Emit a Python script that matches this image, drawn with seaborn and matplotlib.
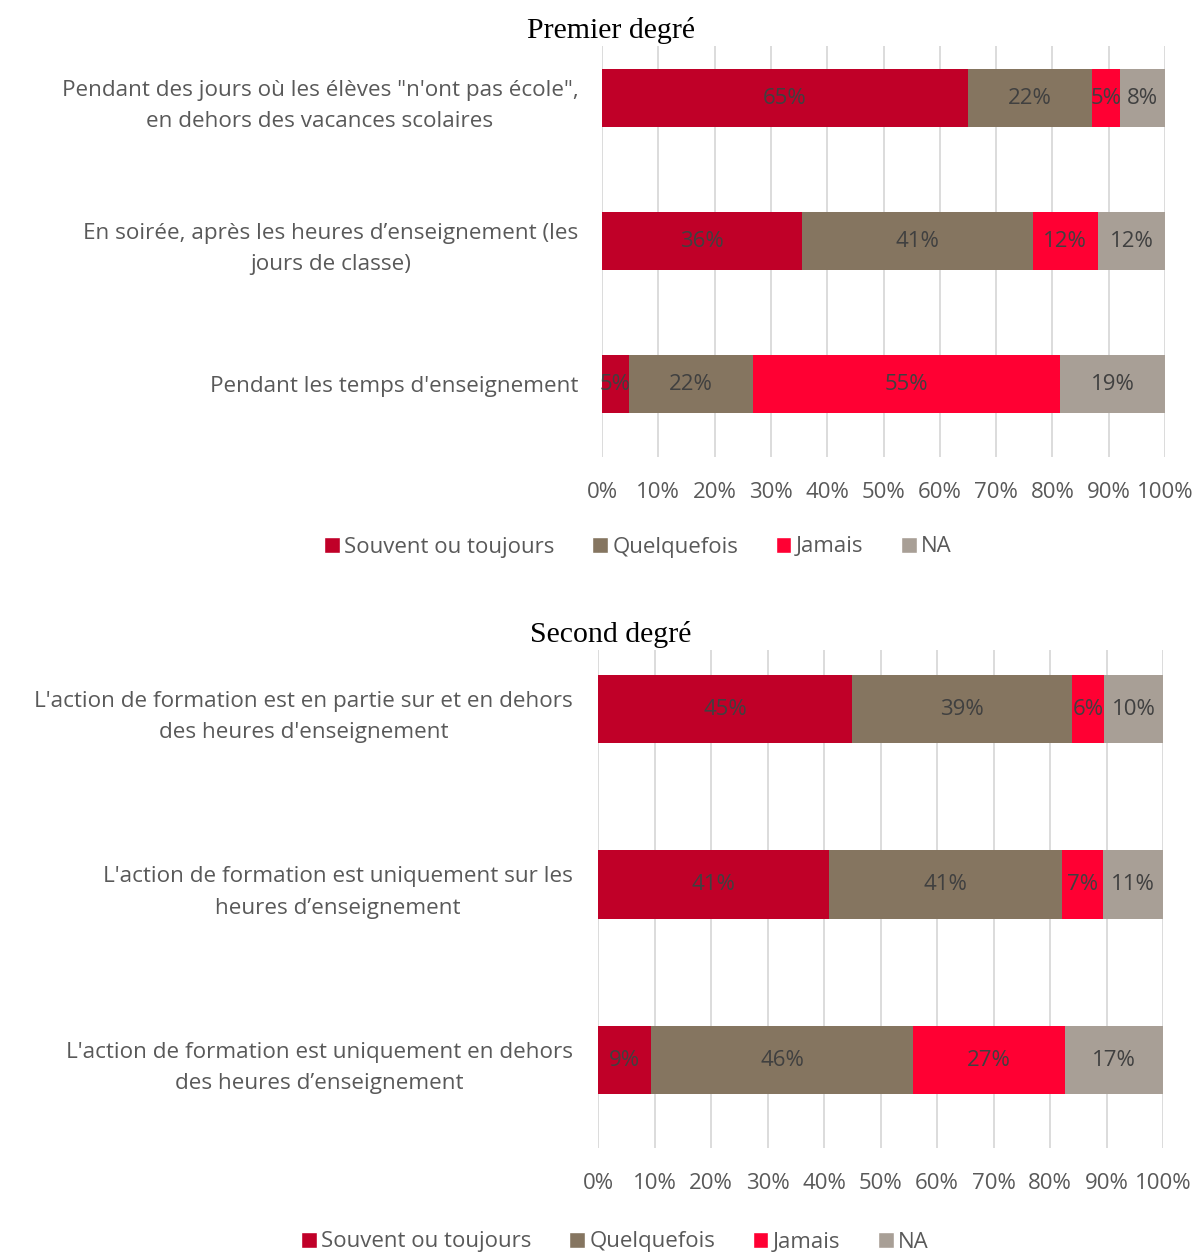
import matplotlib.pyplot as plt
import seaborn as sns
import numpy as np
from matplotlib.patches import Patch

# data
series = ["Souvent ou toujours", "Quelquefois", "Jamais", "NA"]
colors = ["#C00028", "#857560", "#FF0033", "#A89F96"]

cats_1 = ["Pendant des jours où les élèves \"n'ont pas école\",\nen dehors des vacances scolaires",
          "En soirée, après les heures d’enseignement (les\njours de classe)",
          "Pendant les temps d'enseignement"]
souvent_1 = [65.0, 35.6, 4.8]
quelquefois_1 = [22.0, 40.9, 22.0]
jamais_1 = [5.0, 11.6, 54.6]
na_1 = [8.0, 11.9, 18.6]

cats_2 = ["L'action de formation est en partie sur et en dehors\ndes heures d'enseignement",
          "L'action de formation est uniquement sur les\nheures d’enseignement",
          "L'action de formation est uniquement en dehors\ndes heures d’enseignement"]
souvent_2 = [45.0, 40.9, 9.4]
quelquefois_2 = [38.9, 41.2, 46.4]
jamais_2 = [5.7, 7.3, 26.9]
na_2 = [10.4, 10.6, 17.3]

sns.set_style("white")
plt.rcParams['font.family'] = ['Open Sans', 'DejaVu Sans']

fig = plt.figure(figsize=(11.98, 12.54), dpi=100)
ax1 = fig.add_axes([602/1198, 1-457/1254, 563/1198, 411/1254])
ax2 = fig.add_axes([598/1198, 1-1148/1254, 565/1198, 498/1254])

txt = "#595959"


def draw(ax, cats, vals, bar_h, ylim, pad):
    vals = np.array(vals)
    cum = np.cumsum(vals, axis=0)
    # draw from the largest cumulative to the smallest so they stack
    for i in range(3, -1, -1):
        sns.barplot(x=cum[i], y=cats, order=cats, orient="h", color=colors[i],
                    width=bar_h, linewidth=0, saturation=1, ax=ax, zorder=3)
    starts = cum - vals
    for i in range(4):
        for j in range(len(cats)):
            ax.text(starts[i, j] + vals[i, j] / 2, j, f"{vals[i, j]:.0f}%",
                    ha="center", va="center", fontsize=16, color="#404040", zorder=5)
    ax.set_xlim(0, 100)
    ax.set_ylim(*ylim)
    ax.set_xticks(np.arange(0, 101, 10))
    ax.set_xticklabels([f"{t}%" for t in range(0, 101, 10)], fontsize=16, color=txt)
    ax.tick_params(axis="x", length=0, pad=18)
    ax.tick_params(axis="y", length=0, pad=pad)
    for lab in ax.get_yticklabels():
        lab.set_multialignment("center")
        lab.set_linespacing(1.65)
        lab.set_fontsize(16.2)
        lab.set_color(txt)
    ax.grid(axis="x", color="#d9d9d9", linewidth=1.3, zorder=0)
    ax.set_axisbelow(True)
    ax.set_xlabel("")
    ax.set_ylabel("")
    sns.despine(ax=ax, left=True, bottom=True)


draw(ax1, cats_1, [souvent_1, quelquefois_1, jamais_1, na_1], 0.405, (2.51, -0.364), 17)
draw(ax2, cats_2, [souvent_2, quelquefois_2, jamais_2, na_2], 0.39, (2.5, -0.336), 18)

fig.text(611/1198, 1-30/1254, "Premier degré", ha="center", va="center",
         fontsize=21.5, family="Liberation Serif", color="black")
fig.text(611/1198, 1-634/1254, "Second degré", ha="center", va="center",
         fontsize=21.5, family="Liberation Serif", color="black")

handles = [Patch(facecolor=c, label=s) for c, s in zip(colors, series)]
for x, y in [(638/1198, 1-547/1254), (615/1198, 1-1242/1254)]:
    leg = fig.legend(handles=handles, loc="center", bbox_to_anchor=(x, y), ncol=4,
                     frameon=False, fontsize=16, handlelength=0.7, handleheight=0.7,
                     handletextpad=0.2, columnspacing=1.7)
    for t in leg.get_texts():
        t.set_color(txt)

fig.savefig("out.png", dpi=100)
